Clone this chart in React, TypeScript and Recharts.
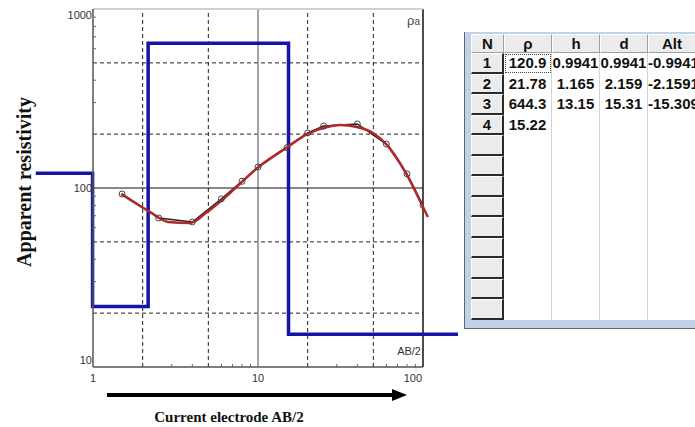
import { LineChart, Line, XAxis, YAxis, ReferenceLine } from "recharts"

// layered model shown in the table
const layerRho = [120.9, 21.78, 644.3, 15.22]
const layerH = [0.9941, 1.165, 13.15]
const layerD = [0.9941, 2.159, 15.31]
const layerAlt = [-0.9941, -2.1591, -15.309]

// where the model step line starts / ends (runs past the frame)
const modelStart = 0.45
const modelEnd = 163

// field data: AB/2 vs apparent resistivity
const abHalf = [1.5, 2.5, 4, 6, 8, 10, 15, 20, 25, 40, 60, 80, 100]
const rhoApp = [92.6, 68, 64.6, 87, 109, 131, 168, 203, 222, 228, 176, 120, 80]

// computed curve for the model
const fitAb = [1.48, 2.22, 2.85, 3.87, 4.91, 6.77, 9.86, 15, 19.8, 26.2, 31.4, 39.8, 49.8, 60.5, 80, 98.6, 107]
const fitRho = [92.6, 73.4, 64.6, 63.7, 73.4, 93.8, 129, 169, 200, 219, 225, 219, 203, 174, 118, 80.4, 68.9]

// axis ticks and grid
const xLabelTicks = [1, 10, 100]
const xMinorTicks = [3, 4, 6, 7, 8, 9, 30, 40, 60, 70, 80, 90]
const yLabelTicks = [10, 100, 1000]
const yMinorTicks = [30, 40, 60, 70, 80, 90, 300, 400, 600, 700, 800, 900]
const xDashed = [2, 5, 20, 50]
const yDashed = [20, 50, 200, 500]

const tableHead = ["N", "ρ", "h", "d", "Alt"]
const tableRows = 13

const modelData = layerRho.flatMap((rho, i) => {
  const from = i === 0 ? modelStart : layerD[i - 1]
  const to = i < layerD.length ? layerD[i] : modelEnd
  return [
    { x: from, y: rho },
    { x: to, y: rho },
  ]
})
const fieldData = abHalf.map((x, i) => ({ x, y: rhoApp[i] }))
const fitData = fitAb.map((x, i) => ({ x, y: fitRho[i] }))

const tickFont = "'Liberation Sans', Arial, sans-serif"

function XTick(props: any) {
  const { x, y, payload } = props
  const v = payload.value
  if (!xLabelTicks.includes(v)) {
    return <line x1={x} y1={y} x2={x} y2={y - 3} stroke="#666" />
  }
  return (
    <text
      x={v === 100 ? x - 1 : x}
      y={y + 15}
      textAnchor={v === 100 ? "end" : "middle"}
      fontSize={11}
      fontFamily={tickFont}
      fill="#333"
    >
      {v}
    </text>
  )
}

function YTick(props: any) {
  const { x, y, payload } = props
  const v = payload.value
  if (!yLabelTicks.includes(v)) {
    return <line x1={x} y1={y} x2={x + 3} y2={y} stroke="#666" />
  }
  const dy = v === 1000 ? 10 : v === 10 ? -3 : 4
  return (
    <text x={x - 1} y={y + dy} textAnchor="end" fontSize={11} fontFamily={tickFont} fill="#333">
      {v}
    </text>
  )
}

const colW = [33, 48, 48, 48, 48]

function cellText(col: number, row: number): string {
  if (col === 0) return row < layerRho.length ? String(row + 1) : ""
  const src = [layerRho, layerH, layerD, layerAlt][col - 1]
  return row < src.length ? String(src[row]) : ""
}

function Table() {
  const font = "bold 15px 'Liberation Sans', Arial, sans-serif"
  return (
    <div
      style={{
        position: "absolute",
        left: 464,
        top: 32,
        width: 240,
        height: 297,
        background: "#bfd2e8",
        borderLeft: "1px solid #666",
        borderBottom: "1px solid #666",
        boxSizing: "border-box",
      }}
    >
      <div
        style={{
          position: "absolute",
          left: 6,
          top: 2,
          width: 240,
          height: 286,
          background: "#fff",
          overflow: "hidden",
          font,
          color: "#111",
        }}
      >
        <div style={{ display: "flex", height: 19 }}>
          {tableHead.map((h, c) => (
            <div
              key={h}
              style={{
                width: colW[c],
                boxSizing: "border-box",
                background: "#ececec",
                borderTop: "1px solid #fff",
                borderLeft: "1px solid #fff",
                borderRight: "1px solid #a0a0a0",
                borderBottom: "1px solid #a0a0a0",
                textAlign: "center",
                lineHeight: "17px",
              }}
            >
              {h}
            </div>
          ))}
        </div>
        {Array.from({ length: tableRows }, (_, r) => (
          <div key={r} style={{ display: "flex", height: 20.5 }}>
            {colW.map((w, c) => (
              <div
                key={c}
                style={
                  c === 0
                    ? {
                        width: w,
                        boxSizing: "border-box",
                        background: "#ececec",
                        borderTop: "1px solid #fff",
                        borderLeft: "1px solid #fff",
                        borderRight: "2px solid #2a2a2a",
                        borderBottom: "2px solid #2a2a2a",
                        textAlign: "center",
                        lineHeight: "18px",
                      }
                    : {
                        width: w,
                        boxSizing: "border-box",
                        borderRight: "1px solid #d2d2d2",
                        textAlign: "center",
                        lineHeight: "20px",
                        whiteSpace: "nowrap",
                        outline: r === 0 && c === 1 ? "1px dotted #444" : undefined,
                        outlineOffset: -2,
                      }
                }
              >
                {cellText(c, r)}
              </div>
            ))}
          </div>
        ))}
      </div>
    </div>
  )
}

export default function App() {
  return (
    <div style={{ position: "relative", width: 695, height: 427, overflow: "hidden", background: "#fff" }}>
      <style>{`body{margin:0} .unclipped, .unclipped * { clip-path: none !important; }`}</style>
      <LineChart width={462} height={427} margin={{ top: 9, right: 39, bottom: 40, left: 0 }}>
        <XAxis
          type="number"
          dataKey="x"
          scale="log"
          domain={[1, 100]}
          allowDataOverflow
          ticks={[...xLabelTicks, ...xMinorTicks]}
          interval={0}
          tick={XTick}
          tickLine={false}
          tickSize={0}
          tickMargin={0}
          height={20}
          axisLine={{ stroke: "#555", strokeWidth: 1.5 }}
        />
        <YAxis
          type="number"
          scale="log"
          domain={[10, 1000]}
          allowDataOverflow
          ticks={[...yLabelTicks, ...yMinorTicks]}
          interval={0}
          tick={YTick}
          tickLine={false}
          tickSize={0}
          tickMargin={0}
          width={93}
          axisLine={{ stroke: "#555", strokeWidth: 1.5 }}
        />
        {xDashed.map((v) => (
          <ReferenceLine key={"x" + v} x={v} stroke="#222" strokeDasharray="4 3" />
        ))}
        {yDashed.map((v) => (
          <ReferenceLine key={"y" + v} y={v} stroke="#222" strokeDasharray="4 3" />
        ))}
        <ReferenceLine x={10} stroke="#888" strokeWidth={1.5} />
        <ReferenceLine y={100} stroke="#111" />
        <ReferenceLine x={100} stroke="#111" strokeWidth={1.5} />
        <ReferenceLine y={1000} stroke="#c8d2dc" strokeWidth={2} />
        <Line
          data={modelData}
          dataKey="y"
          type="linear"
          stroke="#1414a8"
          strokeWidth={3.5}
          dot={false}
          isAnimationActive={false}
          className="unclipped"
        />
        <Line
          data={fieldData}
          dataKey="y"
          type="linear"
          stroke="#222"
          strokeWidth={1.5}
          dot={false}
          isAnimationActive={false}
        />
        <Line
          data={fitData}
          dataKey="y"
          type="monotone"
          stroke="#b3282a"
          strokeWidth={2.5}
          dot={false}
          isAnimationActive={false}
          className="unclipped"
        />
        <Line
          data={fieldData}
          dataKey="y"
          type="linear"
          stroke="none"
          dot={{ r: 3, fill: "none", stroke: "#444", strokeWidth: 1 }}
          isAnimationActive={false}
        />
      </LineChart>

      <div
        style={{
          position: "absolute",
          left: 24,
          top: 182,
          transform: "translate(-50%, -50%) rotate(-90deg)",
          whiteSpace: "nowrap",
          font: "bold 20px 'Liberation Serif', 'Times New Roman', serif",
          color: "#111",
        }}
      >
        Apparent resistivity
      </div>
      <div
        style={{
          position: "absolute",
          left: 229,
          top: 417,
          transform: "translate(-50%, -50%)",
          whiteSpace: "nowrap",
          font: "bold 15px 'Liberation Serif', 'Times New Roman', serif",
          color: "#111",
        }}
      >
        Current electrode AB/2
      </div>
      <svg style={{ position: "absolute", left: 100, top: 385 }} width={320} height={20}>
        <rect x={7} y={8} width={287} height={4} fill="#000" />
        <polygon points="292,4 307,10 292,16" fill="#000" />
      </svg>
      <div
        style={{
          position: "absolute",
          right: 275,
          top: 13,
          font: "13px 'Liberation Sans', Arial, sans-serif",
          color: "#444",
        }}
      >
        ρ<span style={{ fontSize: 10 }}>a</span>
      </div>
      <div
        style={{
          position: "absolute",
          right: 274,
          top: 345,
          font: "11px 'Liberation Sans', Arial, sans-serif",
          color: "#333",
        }}
      >
        AB/2
      </div>
      <Table />
    </div>
  )
}
